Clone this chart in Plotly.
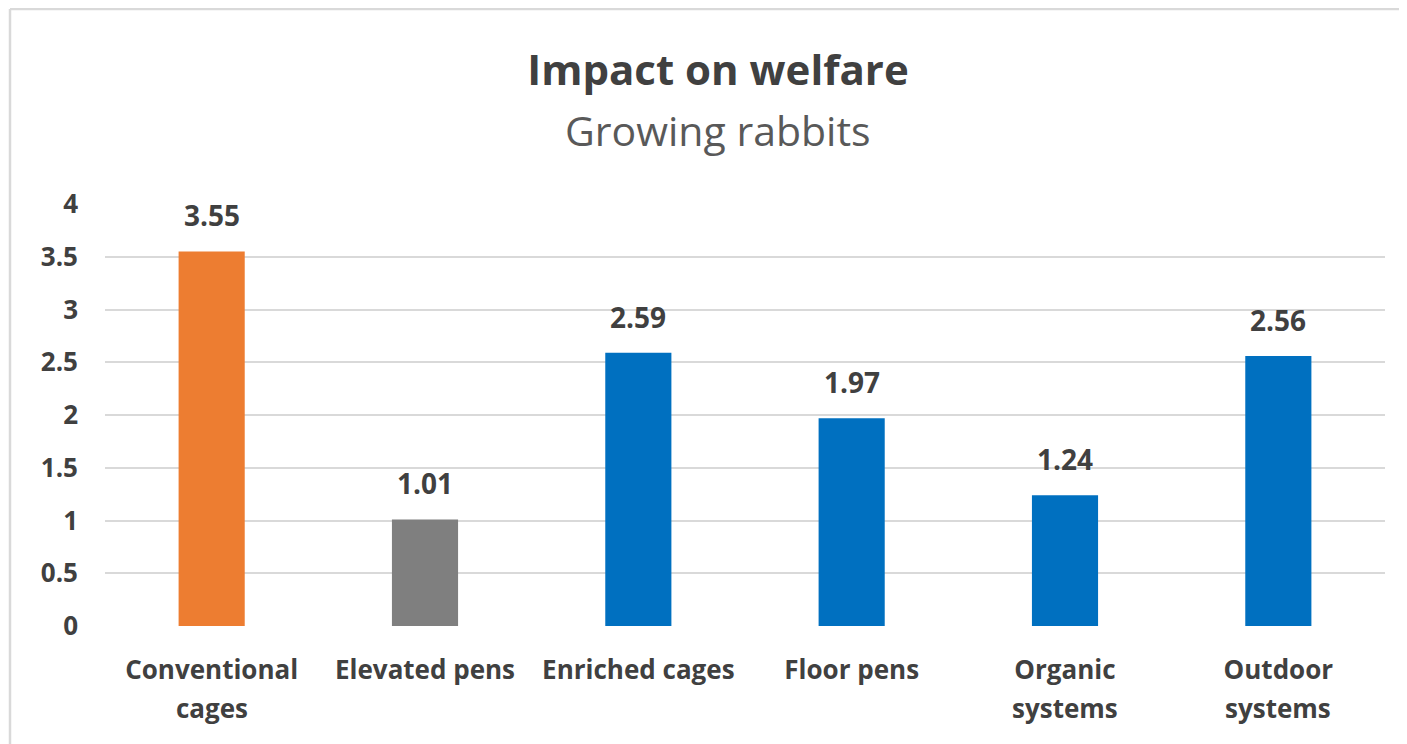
import plotly.graph_objects as go

categories = ["Conventional cages", "Elevated pens", "Enriched cages", "Floor pens", "Organic systems", "Outdoor systems"]
tick_first = ["Conventional", "Elevated pens", "Enriched cages", "Floor pens", "Organic", "Outdoor"]
tick_second = ["cages", "", "", "", "systems", "systems"]
values = [3.55, 1.01, 2.59, 1.97, 1.24, 2.56]
bar_colors = ["#ED7D31", "#7F7F7F", "#0070C0", "#0070C0", "#0070C0", "#0070C0"]
y_ticks = [0, 0.5, 1, 1.5, 2, 2.5, 3, 3.5, 4]
y_tick_labels = ["0", "0.5", "1", "1.5", "2", "2.5", "3", "3.5", "4"]

OFF = 8  # page body offset
W, H = 1407 - OFF, 744 - OFF
ML, MT = 105 - OFF, 204 - OFF
PR, PB = 1385 - OFF, 626 - OFF
MR, MB = W - PR, H - PB
FONT = "Open Sans"
TXT = "#404040"
pw = W - ML - MR
ph = H - MT - MB

def px_x(p):
    return (p - OFF - ML) / pw

def px_y(p):
    return (PB - (p - OFF)) / ph

fig = go.Figure()
fig.add_trace(go.Bar(
    x=categories, y=values, marker=dict(color=bar_colors, line=dict(width=0)),
    width=0.31, hoverinfo="skip", showlegend=False,
))

annotations = []
for c, v in zip(categories, values):
    annotations.append(dict(x=c, y=v, xref="x", yref="y", text=f"{v:.2f}", showarrow=False,
                            yanchor="bottom", yshift=15,
                            font=dict(family=FONT, size=28, color=TXT, weight="bold")))
for c, s in zip(categories, tick_second):
    if s:
        annotations.append(dict(x=c, y=0, xref="x", yref="y", text=s, showarrow=False,
                                yanchor="middle", yshift=-82,
                                font=dict(family=FONT, size=26, color=TXT, weight="bold")))
annotations.append(dict(x=px_x(718), y=px_y(130), xref="paper", yref="paper", text="Growing rabbits",
                        showarrow=False, xanchor="center", yanchor="middle",
                        font=dict(family=FONT, size=41, color="#595959")))

border = dict(color="#D9D9D9", width=2.5)
shapes = [
    dict(type="line", xref="paper", yref="paper", x0=px_x(10), x1=px_x(1407 + 60),
         y0=px_y(9), y1=px_y(9), line=border, layer="below"),
    dict(type="line", xref="paper", yref="paper", x0=px_x(10), x1=px_x(10),
         y0=px_y(9), y1=px_y(744 + 60), line=border, layer="below"),
]

fig.update_layout(
    width=W, height=H,
    margin=dict(l=ML, r=MR, t=MT, b=MB, pad=0),
    paper_bgcolor="white", plot_bgcolor="white",
    title=dict(text="Impact on welfare", x=(718 - OFF) / W, xref="container", xanchor="center",
               y=1 - (70 - OFF) / H, yref="container", yanchor="middle",
               font=dict(family=FONT, size=42, color=TXT, weight="bold")),
    xaxis=dict(tickmode="array", tickvals=categories, ticktext=tick_first,
               tickfont=dict(family=FONT, size=26, color=TXT, weight="bold"),
               showgrid=False, zeroline=False, showline=False, ticks="", ticklabelstandoff=26,
               fixedrange=True),
    yaxis=dict(range=[0, 4], tickvals=y_ticks, ticktext=y_tick_labels,
               tickfont=dict(family=FONT, size=26, color=TXT, weight="bold"),
               showgrid=True, gridcolor="#D9D9D9", gridwidth=2, zeroline=False,
               showline=False, ticks="", ticklabelstandoff=26, fixedrange=True),
    annotations=annotations, shapes=shapes,
)

fig.write_html("out.html")
